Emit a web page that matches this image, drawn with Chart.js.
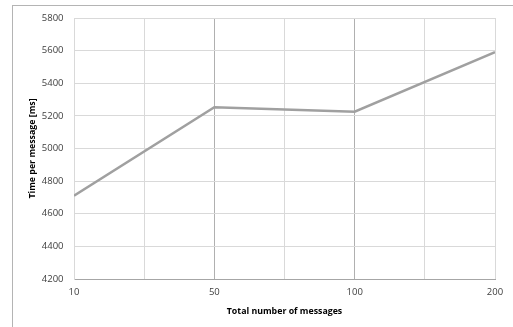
<!DOCTYPE html>
<html>
<head>
<meta charset="utf-8">
<script src="https://cdn.jsdelivr.net/npm/chart.js@4/dist/chart.umd.min.js"></script>
<style>
  html, body { margin: 0; padding: 0; background: #fff; }
  #wrap { position: relative; width: 513px; height: 327px; }
  #frame { position: absolute; left: 12px; top: 5px; right: -2px; bottom: -2px; border: 1px solid #b4b4b4; }
  canvas { position: absolute; left: 0; top: 0; }
</style>
</head>
<body>
<div id="wrap">
  <div id="frame"></div>
  <canvas id="chart" width="513" height="327"></canvas>
</div>
<script>
const categories = ["10", "50", "100", "200"];
const timePerMessage = [4710, 5253, 5226, 5590];
const yTicks = [4200, 4400, 4600, 4800, 5000, 5200, 5400, 5600, 5800];

const points = timePerMessage.map((v, i) => ({ x: i, y: v }));
const font = { family: "'Open Sans', 'Liberation Sans', sans-serif", size: 9.5 };
const titleFont = { family: "'Open Sans', 'Liberation Sans', sans-serif", size: 8.8, weight: "bold" };

new Chart(document.getElementById("chart").getContext("2d"), {
    type: "line",
    data: {
        datasets: [{
            data: points,
            borderColor: "#a0a0a0",
            borderWidth: 2.5,
            pointRadius: 0,
            tension: 0
        }]
    },
    options: {
        responsive: false,
        animation: false,
        layout: { padding: { left: 0, right: 18, top: 18, bottom: 0 } },
        plugins: { legend: { display: false }, tooltip: { enabled: false } },
        scales: {
            x: {
                type: "linear",
                min: 0,
                max: categories.length - 1,
                afterFit: s => { s.height = 48; },
                afterBuildTicks: s => {
                    s.ticks = [];
                    for (let v = 0; v <= categories.length - 1; v += 0.5) s.ticks.push({ value: v });
                },
                ticks: {
                    color: "#404040",
                    font,
                    padding: 8,
                    autoSkip: false,
                    maxRotation: 0,
                    callback: v => Number.isInteger(v) ? categories[v] : ""
                },
                grid: {
                    drawTicks: false,
                    color: c => (c.tick && (c.tick.value === 1 || c.tick.value === 2)) ? "#b0b0b0" : "#d9d9d9"
                },
                border: { color: "#a6a6a6" },
                title: {
                    display: true,
                    text: "Total number of messages",
                    color: "#000",
                    font: titleFont,
                    padding: { top: 0, bottom: 10.5 }
                }
            },
            y: {
                min: 4200,
                max: 5800,
                afterFit: s => { s.width = 74; },
                afterBuildTicks: s => { s.ticks = yTicks.map(v => ({ value: v })); },
                ticks: { color: "#404040", font, padding: 10.5, callback: v => String(v) },
                grid: { drawTicks: false, color: "#d9d9d9" },
                border: { color: "#d9d9d9" },
                title: {
                    display: true,
                    text: "Time per message [ms]",
                    color: "#000",
                    font: titleFont,
                    padding: { top: 27, bottom: 0 }
                }
            }
        }
    }
});
</script>
</body>
</html>
